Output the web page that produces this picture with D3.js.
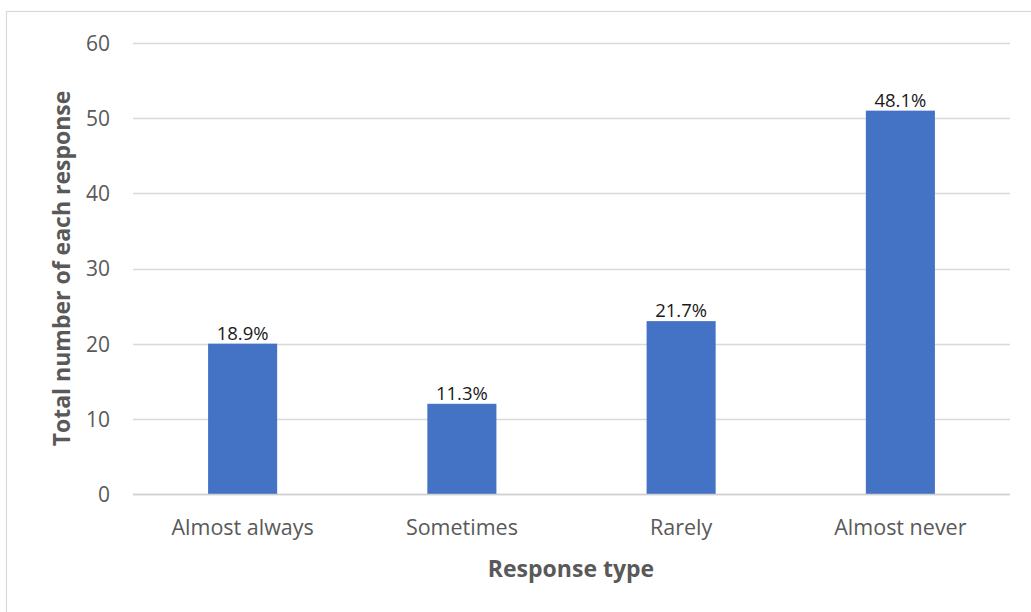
<!DOCTYPE html>
<html>
<head>
<meta charset="utf-8">
<script src="https://cdn.jsdelivr.net/npm/d3@7"></script>
<style>
  html, body { margin: 0; padding: 0; background: #fff; }
  svg { display: block; }
</style>
</head>
<body>
<svg id="chart" width="1031" height="612"></svg>
<script>
// Survey responses: count per response type, with share labels
const categories = ["Almost always", "Sometimes", "Rarely", "Almost never"];
const counts = [20, 12, 23, 51];
const percentLabels = ["18.9%", "11.3%", "21.7%", "48.1%"];
const yTicks = [0, 10, 20, 30, 40, 50, 60];

(function drawChart() {
  const svg = d3.select("#chart");
  const W = 1031, H = 612;
  const font = "'Open Sans', 'Noto Sans', sans-serif";

  // outer frame of the chart area
  svg.append("rect")
    .attr("x", 6.5).attr("y", 11.5)
    .attr("width", W + 20).attr("height", H + 20)
    .attr("fill", "#fff")
    .attr("stroke", "#d9d9d9").attr("stroke-width", 1.2);

  const plotLeft = 133, plotRight = 1010, plotTop = 43, plotBottom = 494;

  const x = d3.scaleBand().domain(categories).range([plotLeft, plotRight])
    .paddingInner(0.685).paddingOuter(0.3425);
  const y = d3.scaleLinear().domain([0, 60]).range([plotBottom, plotTop]);

  // horizontal gridlines
  svg.append("g").selectAll("line").data(yTicks).join("line")
    .attr("x1", plotLeft).attr("x2", plotRight)
    .attr("y1", d => Math.round(y(d)) + 0.5).attr("y2", d => Math.round(y(d)) + 0.5)
    .attr("stroke", "#d9d9d9").attr("stroke-width", 1.3);

  // y tick labels
  const yAxis = svg.append("g").attr("transform", `translate(${plotLeft - 23},0)`)
    .call(d3.axisLeft(y).tickValues(yTicks).tickSize(0).tickPadding(0));
  yAxis.select(".domain").remove();
  yAxis.selectAll("text")
    .attr("font-family", font).attr("font-size", 21).attr("fill", "#595959")
    .attr("dy", "0.35em");

  // bars
  svg.append("g").selectAll("rect").data(categories).join("rect")
    .attr("x", d => x(d))
    .attr("width", x.bandwidth())
    .attr("y", (d, i) => y(counts[i]))
    .attr("height", (d, i) => y(0) - y(counts[i]))
    .attr("fill", "#4472c4");

  // baseline
  svg.append("line")
    .attr("x1", plotLeft).attr("x2", plotRight)
    .attr("y1", Math.round(y(0)) + 0.5).attr("y2", Math.round(y(0)) + 0.5)
    .attr("stroke", "#d0d0d0").attr("stroke-width", 1.5);

  // value labels above bars
  svg.append("g").selectAll("text").data(categories).join("text")
    .attr("x", d => x(d) + x.bandwidth() / 2)
    .attr("y", (d, i) => y(counts[i]) - 4)
    .attr("text-anchor", "middle")
    .attr("font-family", font).attr("font-size", 18.5).attr("fill", "#1a1a1a")
    .text((d, i) => percentLabels[i]);

  // x category labels
  const xAxis = svg.append("g").attr("transform", `translate(0,${plotBottom})`)
    .call(d3.axisBottom(x).tickSize(0).tickPadding(0));
  xAxis.select(".domain").remove();
  xAxis.selectAll("text")
    .attr("y", 41).attr("dy", 0)
    .attr("font-family", font).attr("font-size", 21.5).attr("fill", "#595959");

  // axis titles
  svg.append("text")
    .attr("x", 571).attr("y", 577)
    .attr("text-anchor", "middle")
    .attr("font-family", font).attr("font-size", 23).attr("font-weight", "bold").attr("fill", "#595959")
    .text("Response type");

  svg.append("text")
    .attr("transform", `translate(70,${(plotTop + plotBottom) / 2}) rotate(-90)`)
    .attr("text-anchor", "middle")
    .attr("font-family", font).attr("font-size", 23).attr("font-weight", "bold").attr("fill", "#595959")
    .text("Total number of each response");
})();
</script>
</body>
</html>
